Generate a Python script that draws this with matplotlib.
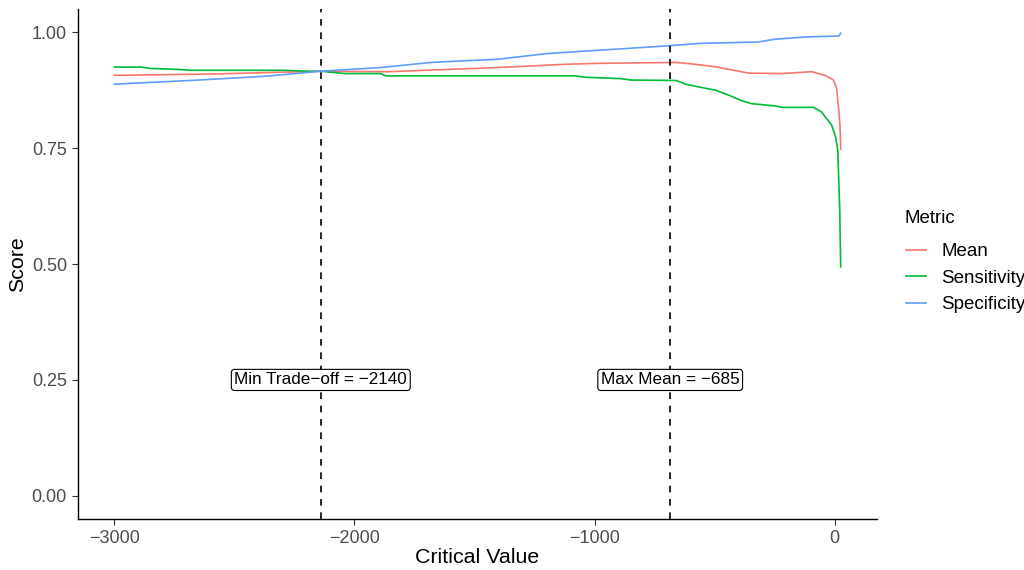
import numpy as np
import matplotlib.pyplot as plt

plt.rcParams['font.family'] = ['Liberation Sans', 'DejaVu Sans']

# values
mean_x = [-3000, -2600, -2140, -1860, -1400, -1120, -990, -660, -600, -500, -400,
          -360, -220, -95, -40, -5, 8, 17, 22, 25]
mean_y = [0.907, 0.910, 0.916, 0.915, 0.924, 0.931, 0.933, 0.935, 0.932, 0.926, 0.916,
          0.912, 0.911, 0.915, 0.907, 0.897, 0.879, 0.832, 0.800, 0.748]

sens_x = [-3000, -2890, -2850, -2740, -2680, -2290, -2200, -2140, -2040, -1890, -1870,
          -1080, -1040, -890, -850, -660, -620, -565, -495, -430, -385, -345, -245,
          -220, -88, -55, -13, 4, 13, 21, 25]
sens_y = [0.925, 0.925, 0.922, 0.920, 0.918, 0.918, 0.916, 0.916, 0.911, 0.911, 0.906,
          0.906, 0.903, 0.900, 0.897, 0.896, 0.888, 0.882, 0.875, 0.862, 0.852, 0.846, 0.841,
          0.838, 0.838, 0.828, 0.800, 0.774, 0.746, 0.616, 0.494]

spec_x = [-3000, -2650, -2375, -2140, -1890, -1680, -1400, -1200, -990, -690, -565,
          -320, -250, -120, 17, 25]
spec_y = [0.888, 0.897, 0.905, 0.916, 0.924, 0.935, 0.942, 0.954, 0.961, 0.971, 0.976,
          0.979, 0.985, 0.990, 0.992, 0.998]

min_tradeoff = -2140
max_mean = -685

fig = plt.figure(figsize=(10.24, 5.7), dpi=100)
ax = fig.add_axes([0.0762, 0.0895, 0.7802, 0.8945])

ax.plot(mean_x, mean_y, color='#F8766D', lw=1.2, label='Mean')
ax.plot(sens_x, sens_y, color='#00BA38', lw=1.2, label='Sensitivity')
ax.plot(spec_x, spec_y, color='#619CFF', lw=1.2, label='Specificity')

for xv, txt in [(min_tradeoff, 'Min Trade\u2212off = \u22122140'),
                (max_mean, 'Max Mean = \u2212685')]:
    ax.axvline(xv, color='black', ls=(0, (4, 4)), lw=1.2)
    ax.text(xv, 0.25, txt, ha='center', va='center', fontsize=12.3,
            bbox=dict(boxstyle='round,pad=0.18,rounding_size=0.2', fc='white', ec='black', lw=0.8))

ax.set_xlim(-3151, 176)
ax.set_ylim(-0.05, 1.05)
ax.set_xticks([-3000, -2000, -1000, 0])
ax.set_yticks([0, 0.25, 0.5, 0.75, 1.0])
ax.set_yticklabels(['0.00', '0.25', '0.50', '0.75', '1.00'])
ax.tick_params(colors='#333333', labelcolor='#4D4D4D', labelsize=13, length=4.5, width=0.8)
for s in ['top', 'right']:
    ax.spines[s].set_visible(False)
for s in ['left', 'bottom']:
    ax.spines[s].set_linewidth(1.0)

ax.set_xlabel('Critical Value', fontsize=15.4, labelpad=1)
ax.set_ylabel('Score', fontsize=15.4, labelpad=3)

fig.text(905 / 1024, 1 - 218 / 570, 'Metric', fontsize=13.5, ha='left', va='center')
leg = fig.legend(loc='upper left', bbox_to_anchor=(0.868, 0.603), frameon=False,
                 fontsize=13.5, handlelength=1.1, handletextpad=0.8, labelspacing=0.5)

fig.savefig('out.png', dpi=100)
